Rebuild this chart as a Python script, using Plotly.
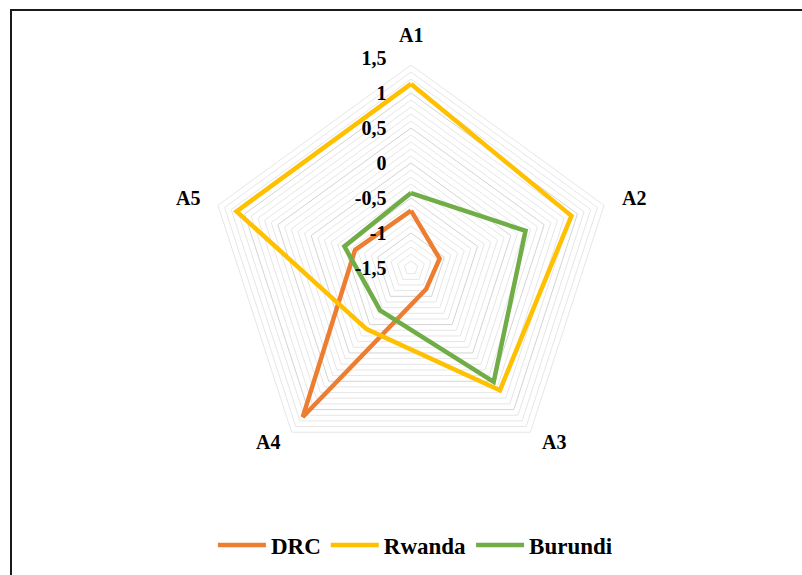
import numpy as np
import plotly.graph_objects as go

# Indicator axes and standardized scores per country
axes = ["A1", "A2", "A3", "A4", "A5"]
drc = [-0.68, -1.07, -1.13, 1.13, -0.66]
rwanda = [1.13, 0.91, 0.66, -0.42, 1.12]
burundi = [-0.43, 0.22, 0.51, -0.75, -0.50]

r_min, r_max = -1.5, 1.5
major_step = 0.5
minor_step = 0.1
tick_vals = [-1.5, -1.0, -0.5, 0.0, 0.5, 1.0, 1.5]
tick_text = ["-1,5", "-1", "-0,5", "0", "0,5", "1", "1,5"]

series = [
    ("DRC", drc, "#ED7D31"),
    ("Rwanda", rwanda, "#FFC000"),
    ("Burundi", burundi, "#70AD47"),
]

FONT = "Liberation Serif"

fig = go.Figure()

# light minor grid pentagons between the major levels
closed_axes = axes + [axes[0]]
for lvl in np.arange(r_min + minor_step, r_max, minor_step):
    lvl = round(float(lvl), 2)
    if abs(lvl / major_step - round(lvl / major_step)) < 1e-6:
        continue
    fig.add_trace(go.Scatterpolar(
        r=[lvl] * len(closed_axes), theta=closed_axes, mode="lines",
        line=dict(color="#e6e6e6", width=1), showlegend=False, hoverinfo="skip",
    ))

for name, vals, color in series:
    fig.add_trace(go.Scatterpolar(
        r=vals + [vals[0]], theta=closed_axes, mode="lines", name=name,
        line=dict(color=color, width=4.5),
    ))

W, H = 802, 575
cx, cy, R = 411, 268, 210

# category names anchored just outside each vertex of the outer pentagon
annotations = []
for k, name in enumerate(axes):
    ang = np.deg2rad(90 - 360 / len(axes) * k)
    c, s = np.cos(ang), np.sin(ang)
    vx, vy = cx + R * c, cy - R * s
    if abs(c) < 0.1:
        xa, xs = "center", 0
    elif c > 0:
        xa, xs = "left", 6 if s < 0 else 9
    else:
        xa, xs = "right", -6 if s < 0 else -9
    if s > 0.9:
        ya, ys = "bottom", 10
    elif s > 0:
        ya, ys = "middle", 5
    else:
        ya, ys = "middle", -4
    annotations.append(dict(
        x=vx / W, y=1 - vy / H, xref="paper", yref="paper",
        text=name, showarrow=False, xanchor=xa, yanchor=ya,
        xshift=xs, yshift=ys,
        font=dict(family=FONT, size=20, color="#000", weight="bold"),
    ))

fig.update_layout(
    width=W, height=H,
    margin=dict(l=0, r=0, t=0, b=0),
    paper_bgcolor="white",
    font=dict(family=FONT, color="#000000"),
    polar=dict(
        domain=dict(x=[(cx - R) / W, (cx + R) / W],
                    y=[(H - cy - R) / H, (H - cy + R) / H]),
        gridshape="linear",
        bgcolor="white",
        angularaxis=dict(
            direction="clockwise", rotation=90,
            showgrid=False, showline=False, ticks="",
            showticklabels=False,
        ),
        radialaxis=dict(
            range=[r_min, r_max], tickmode="array",
            tickvals=tick_vals, ticktext=tick_text,
            angle=90, tickangle=90, side="counterclockwise",
            showline=False, gridcolor="#d4d4d4", gridwidth=1,
            ticks="outside", ticklen=17, tickcolor="rgba(0,0,0,0)",
            tickfont=dict(family=FONT, size=20, color="#000", weight="bold"),
        ),
    ),
    legend=dict(
        orientation="h", x=0.518, xanchor="center", y=1 - 545 / H, yanchor="middle",
        font=dict(family=FONT, size=23, color="#000", weight="bold"),
        itemwidth=48, tracegroupgap=0,
    ),
    annotations=annotations,
    shapes=[dict(
        type="rect", xref="paper", yref="paper",
        x0=11 / W, x1=1.02, y0=-0.02, y1=1 - 10 / H,
        line=dict(color="#1a1a1a", width=2),
    )],
)

fig.write_html("out.html")
